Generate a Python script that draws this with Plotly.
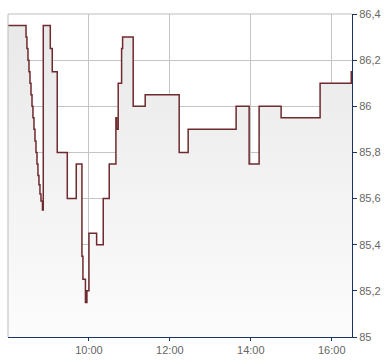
import plotly.graph_objects as go

day = "2024-05-17 "
times = [
    "08:00:00", "08:26:42", "08:28:06", "08:29:36", "08:31:06", "08:32:36", "08:34:06",
    "08:35:36", "08:37:00", "08:38:30", "08:40:00", "08:41:30", "08:43:00", "08:44:24",
    "08:45:54", "08:47:24", "08:48:54", "08:51:06", "08:52:18", "09:02:42", "09:05:36",
    "09:13:00", "09:27:54", "09:41:12", "09:49:36", "09:51:06", "09:54:48", "09:57:00",
    "10:00:00", "10:11:24", "10:21:12", "10:30:06", "10:40:00", "10:41:00", "10:43:24",
    "10:48:24", "10:49:54", "11:05:36", "11:23:24", "12:13:48", "12:27:06", "13:38:12",
    "13:57:30", "14:12:18", "14:44:54", "15:42:42", "16:28:54", "16:30:00",
]
prices = [
    86.35, 86.30, 86.25, 86.20, 86.15, 86.10, 86.05,
    86.00, 85.95, 85.90, 85.85, 85.80, 85.75, 85.70,
    85.66, 85.62, 85.59, 85.55, 86.35, 86.25, 86.15,
    85.80, 85.60, 85.75, 85.35, 85.25, 85.15, 85.20,
    85.45, 85.40, 85.60, 85.75, 85.95, 85.90, 86.10,
    86.25, 86.30, 86.00, 86.05, 85.80, 85.90, 86.00,
    85.75, 86.00, 85.95, 86.10, 86.15, 86.15,
]
y_ticks = [85, 85.2, 85.4, 85.6, 85.8, 86, 86.2, 86.4]
x_ticks = ["10:00", "12:00", "14:00", "16:00"]

x = [day + t for t in times]

fig = go.Figure()
fig.add_trace(go.Scatter(
    x=x, y=prices, mode="lines",
    line=dict(shape="hv", color="#6e2a2e", width=1.5),
    fill="tozeroy",
    fillgradient=dict(type="vertical", start=85, stop=86.4,
                      colorscale=[[0, "#fcfcfc"], [1, "#e8e8e8"]]),
    hoverinfo="skip",
))

font = dict(family="Liberation Sans, Arial, sans-serif", size=11, color="#666666")
fig.update_layout(
    width=390, height=364,
    margin=dict(l=8, r=38, t=11, b=24),
    paper_bgcolor="white", plot_bgcolor="white",
    showlegend=False,
    separators=", ",
    font=font,
    xaxis=dict(
        type="date",
        range=[day + "08:00", day + "16:30"],
        tickvals=[day + t for t in x_ticks],
        ticktext=x_ticks,
        showgrid=True, gridcolor="#c4c4c4", gridwidth=1,
        showline=True, linecolor="#1b3466", linewidth=1,
        ticks="outside", ticklen=3, tickcolor="#1b3466",
        zeroline=False, fixedrange=True,
    ),
    yaxis=dict(
        side="right",
        range=[85, 86.4],
        tickvals=y_ticks,
        showgrid=True, gridcolor="#c4c4c4", gridwidth=1,
        showline=True, linecolor="#1b3466", linewidth=1,
        ticks="outside", ticklen=4, tickcolor="#1b3466",
        zeroline=False, fixedrange=True,
    ),
)
# gray frame on the left and top
fig.add_shape(type="line", xref="paper", yref="paper", x0=0, x1=0, y0=0, y1=1,
              line=dict(color="#bdbdbd", width=1))
fig.add_shape(type="line", xref="paper", yref="paper", x0=0, x1=1, y0=1, y1=1,
              line=dict(color="#bdbdbd", width=1))

fig.write_html("out.html")
